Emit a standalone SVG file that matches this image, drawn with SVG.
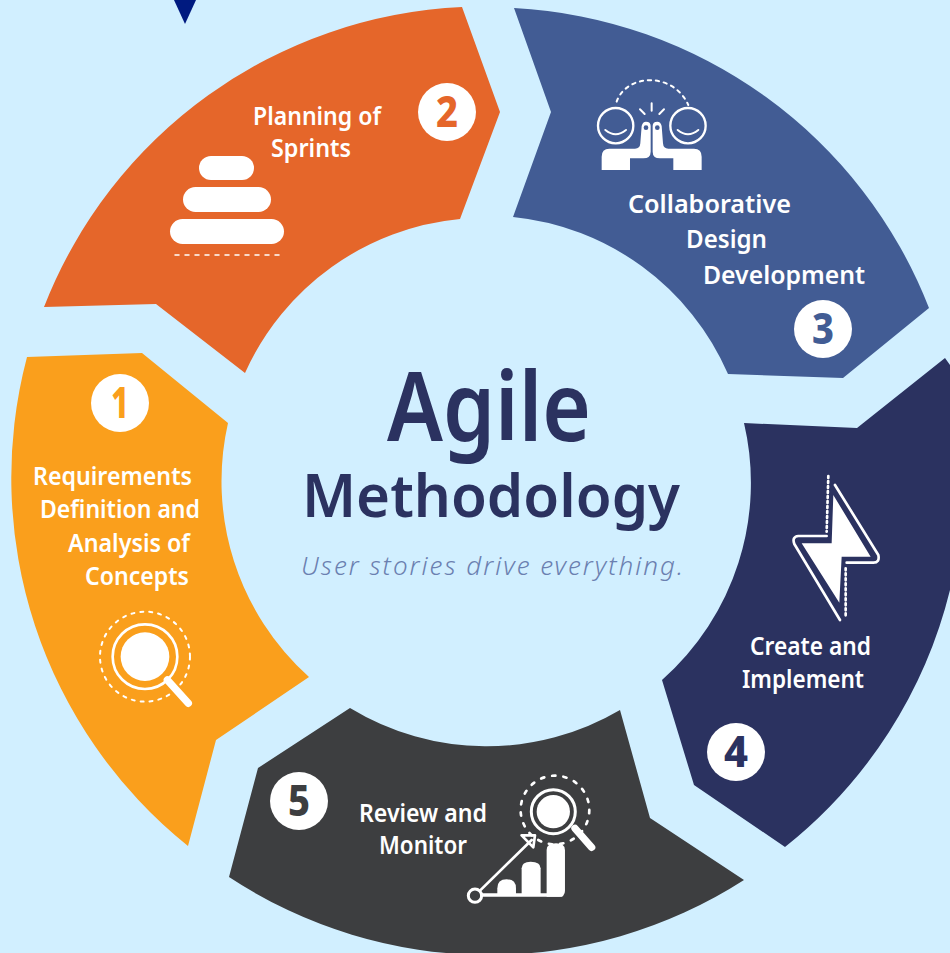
<svg xmlns="http://www.w3.org/2000/svg" width="950" height="953" viewBox="0 0 950 953">
<style>
.lb{font-family:"Noto Sans","Open Sans","Liberation Sans",sans-serif;font-size:25px;font-weight:600;fill:#fff}
.dg{font-family:"Noto Sans","Liberation Sans",sans-serif;font-size:42px;font-weight:800;text-anchor:middle}
.ti{font-family:"Noto Sans","Open Sans","Liberation Sans",sans-serif;fill:#2b3260}
.w{fill:#fff}
.s{fill:none;stroke:#fff;stroke-linecap:round;stroke-linejoin:round}
</style>
<rect width="950" height="953" fill="#d1efff"/>
<polygon points="174,0 196,0 185,24" fill="#001a80"/>
<g id="connectors"/>
<g id="node-1">
<path d="M27 357L142 353L228 423A263 263 0 0 0 309 677L216 740L188 846A472 472 0 0 1 27 357Z" fill="#fa9f1c"/>
<circle cx="120" cy="403" r="29" class="w"/>
<text x="120" y="418" class="dg" fill="#fa9f1c" textLength="18" lengthAdjust="spacingAndGlyphs">1</text>
<text class="lb" x="33" y="485" textLength="159" lengthAdjust="spacingAndGlyphs">Requirements</text>
<text class="lb" x="40" y="518" textLength="160" lengthAdjust="spacingAndGlyphs">Definition and</text>
<text class="lb" x="68" y="552" textLength="122" lengthAdjust="spacingAndGlyphs">Analysis of</text>
<text class="lb" x="85" y="585" textLength="104" lengthAdjust="spacingAndGlyphs">Concepts</text>
<g transform="translate(20 370) scale(.3333)">
<circle cx="375" cy="860" r="135" class="s" stroke-width="6" stroke-dasharray="9 18"/>
<circle cx="375" cy="860" r="97" class="s" stroke-width="8"/>
<circle cx="375" cy="860" r="73" class="w"/>
<path d="M442 930L505 1000" class="s" stroke-width="22"/>
</g>
</g>
<g id="node-2">
<path d="M44 307A472 472 0 0 1 462 7L500 112L460 219A263 263 0 0 0 245 373L156 304Z" fill="#e5662a"/>
<circle cx="447" cy="112" r="29" class="w"/>
<text x="447" y="127" class="dg" fill="#e5662a" textLength="22" lengthAdjust="spacingAndGlyphs">2</text>
<text class="lb" x="253" y="125" textLength="128" lengthAdjust="spacingAndGlyphs">Planning of</text>
<text class="lb" x="271" y="157" textLength="80" lengthAdjust="spacingAndGlyphs">Sprints</text>
<rect x="199" y="156" width="55" height="24" rx="12" class="w"/>
<rect x="183" y="187" width="88" height="25" rx="12.5" class="w"/>
<rect x="170" y="219" width="114" height="25" rx="12.5" class="w"/>
<path d="M175 255H284" class="s" stroke-width="1.5" stroke-linecap="butt" stroke-dasharray="4 6"/>
</g>
<g id="node-3">
<path d="M514 8A472 472 0 0 1 929 308L843 378L728 374A263 263 0 0 0 513 217L551 112Z" fill="#425c94"/>
<circle cx="823" cy="329" r="29" class="w"/>
<text x="823" y="344" class="dg" fill="#425c94" textLength="22" lengthAdjust="spacingAndGlyphs">3</text>
<text class="lb" x="628" y="213" textLength="163" lengthAdjust="spacingAndGlyphs">Collaborative</text>
<text class="lb" x="686" y="248" textLength="81" lengthAdjust="spacingAndGlyphs">Design</text>
<text class="lb" x="703" y="284" textLength="162" lengthAdjust="spacingAndGlyphs">Development</text>
<g transform="translate(560 60) scale(.3333)">
<path d="M170 125C200 40 340 35 385 135" class="s" stroke-width="6" stroke-dasharray="10 14"/>
<circle cx="167" cy="197" r="53" class="s" stroke-width="7"/>
<circle cx="384" cy="197" r="53" class="s" stroke-width="7"/>
<path d="M136 210Q167 235 198 210M353 210Q384 235 415 210M275 130V152M240 148L254 162M312 148L298 162" class="s" stroke-width="6"/>
<path d="M125 330V290Q125 266 148 266H225Q240 266 241 250L245 198Q248 185 258 185Q272 185 272 198V275Q272 295 250 295H210V330Z" class="w"/>
<path d="M425 330V290Q425 266 402 266H325Q310 266 309 250L305 198Q302 185 292 185Q278 185 278 198V275Q278 295 300 295H340V330Z" class="w"/>
<circle cx="258" cy="203" r="7" fill="#425c94"/>
<circle cx="292" cy="203" r="7" fill="#425c94"/>
</g>
</g>
<g id="node-4">
<path d="M945 358L857 428L744 423A263 263 0 0 1 662 680L694 785L785 847A472 472 0 0 0 950 590V365Z" fill="#2b3260"/>
<circle cx="736" cy="752" r="29" class="w"/>
<text x="736" y="767" class="dg" fill="#2b3260" textLength="24" lengthAdjust="spacingAndGlyphs">4</text>
<text class="lb" x="750" y="655" textLength="121" lengthAdjust="spacingAndGlyphs">Create and</text>
<text class="lb" x="742" y="688" textLength="122" lengthAdjust="spacingAndGlyphs">Implement</text>
<g transform="translate(700 460) scale(.3333)">
<path d="M400 105L512 290H425L418 428L305 250H395Z" class="w"/>
<path d="M405 75L535 285Q540 308 520 308H440M380 228H295Q275 230 283 252L420 480" class="s" stroke-width="8"/>
<path d="M385 48L380 215M437 325V470" class="s" stroke-width="8" stroke-linecap="butt" stroke-dasharray="6 9"/>
</g>
</g>
<g id="node-5">
<path d="M229 877L258 768L350 708A263 263 0 0 0 620 710L650 818L744 880A472 472 0 0 1 229 877Z" fill="#3d3e40"/>
<circle cx="299" cy="801" r="29" class="w"/>
<text x="299" y="816" class="dg" fill="#3d3e40" textLength="22" lengthAdjust="spacingAndGlyphs">5</text>
<text class="lb" x="359" y="822" textLength="128" lengthAdjust="spacingAndGlyphs">Review and</text>
<text class="lb" x="379" y="854" textLength="88" lengthAdjust="spacingAndGlyphs">Monitor</text>
<g transform="translate(260 760) scale(.3333)">
<circle cx="885" cy="150" r="103" class="s" stroke-width="8" stroke-dasharray="10 24"/>
<circle cx="880" cy="155" r="66" class="s" stroke-width="9"/>
<circle cx="880" cy="155" r="50" class="w"/>
<path d="M945 205L995 262" class="s" stroke-width="22"/>
<path d="M660 392L815 240M785 226H825L820 262Z" class="s" stroke-width="8"/>
<circle cx="645" cy="407" r="20" class="s" stroke-width="9"/>
<path d="M665 405H905" class="s" stroke-width="10"/>
<path d="M712 405V385Q712 358 740 358Q768 358 768 385V405Z" class="w"/>
<path d="M785 405V325Q785 305 812 305Q842 305 842 325V405Z" class="w"/>
<path d="M860 410V270Q860 250 888 250Q915 250 915 270V392Q915 410 897 410Z" class="w"/>
</g>
</g>
<g id="center">
<text class="ti" x="387" y="441" font-size="95" font-weight="600" textLength="204" lengthAdjust="spacingAndGlyphs">Agile</text>
<text class="ti" x="302" y="517" font-size="60" font-weight="600" textLength="378" lengthAdjust="spacingAndGlyphs">Methodology</text>
<text x="301" y="575" font-family="Noto Sans, Open Sans, sans-serif" font-size="26" font-style="italic" font-weight="300" fill="#6b80b0" textLength="382">User stories drive everything.</text>
</g>
</svg>
